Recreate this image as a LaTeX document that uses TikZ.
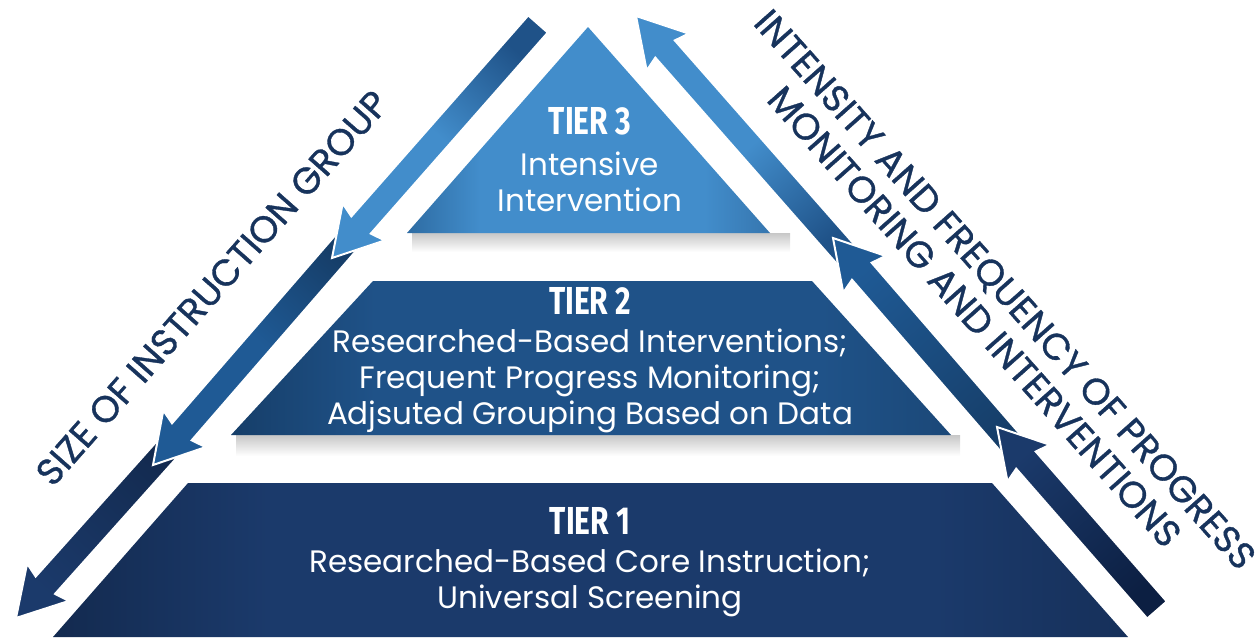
\documentclass[tikz,border=0pt]{standalone}
\usepackage{fontspec}
\setmainfont{Poppins}
\newfontfamily\tierfont[FakeStretch=0.77]{Fira Sans}
\newfontfamily\sidefont[FakeBold=0.9]{Poppins}
\usetikzlibrary{calc,positioning}
\definecolor{navy}{HTML}{17335C}
\definecolor{tieroneL}{HTML}{132A4F}
\definecolor{tierone}{HTML}{1B3A6B}
\definecolor{tieroneR}{HTML}{16305A}
\definecolor{tiertwoL}{HTML}{163E69}
\definecolor{tiertwo}{HTML}{1F5288}
\definecolor{tiertwoR}{HTML}{1B4878}
\definecolor{tierthreeL}{HTML}{2E6CA3}
\definecolor{tierthree}{HTML}{428DCB}
\definecolor{tierthreeR}{HTML}{3676AF}
\definecolor{arrowlight}{HTML}{428DCB}
\definecolor{arrowmid}{HTML}{1F5A95}
\definecolor{arrowdark}{HTML}{1B3A6B}
\definecolor{arrowdeep}{HTML}{0C1F42}
\pgfdeclarehorizontalshading{tieroneshade}{100bp}{color(0bp)=(tieroneL); color(25bp)=(tieroneL); color(35bp)=(tierone); color(66bp)=(tierone); color(75bp)=(tieroneR); color(100bp)=(tieroneR)}
\pgfdeclarehorizontalshading{tiertwoshade}{100bp}{color(0bp)=(tiertwoL); color(25bp)=(tiertwoL); color(35bp)=(tiertwo); color(66bp)=(tiertwo); color(75bp)=(tiertwoR); color(100bp)=(tiertwoR)}
\pgfdeclarehorizontalshading{tierthreeshade}{100bp}{color(0bp)=(tierthreeL); color(25bp)=(tierthreeL); color(35bp)=(tierthree); color(66bp)=(tierthree); color(75bp)=(tierthreeR); color(100bp)=(tierthreeR)}
% block arrow from #1 (tail) to #2 (tip)
\newcommand{\blockarrow}[3]{
\coordinate (hb) at ($(#2)!44pt!(#1)$);
\coordinate (hc) at ($(#2)!48pt!(#1)$);
\path[#3, draw=white, line width=2pt]
 ($(#1)!13pt!90:(#2)$) -- ($(hb)!13pt!-90:(#1)$) -- ($(hc)!28pt!-90:(#1)$) -- (#2)
 -- ($(hc)!28pt!90:(#1)$) -- ($(hb)!13pt!90:(#1)$) -- ($(#1)!13pt!-90:(#2)$) -- cycle;}

\begin{document}
\begin{tikzpicture}[x=1pt,y=-1pt,
 tiertitle/.style={font=\tierfont\bfseries\fontsize{39}{40}\selectfont, text=white, inner sep=0pt},
 tierbody/.style={font=\fontsize{31}{36}\selectfont, text=white, align=center, inner sep=0pt, anchor=north},
 sidelabel/.style={font=\sidefont\fontsize{37}{41}\selectfont, text=navy, align=center, inner sep=0pt},
 tiershadow/.style={top color=black!22, bottom color=white, draw=none}]
\useasboundingbox (0,0) rectangle (1256,640);

% shadows under the tiers
\path[tiershadow] (412,233) rectangle (790,252);
\path[tiershadow] (236,435) rectangle (960,456);

% tiers
\path[shading=tierthreeshade] (407,233) -- (588,27) -- (770,233) -- cycle;
\path[shading=tiertwoshade] (231,435) -- (373,281) -- (812,281) -- (951,435) -- cycle;
\path[shading=tieroneshade] (53,637) -- (188,483) -- (992,483) -- (1128,637) -- cycle;

\node[tiertitle] (t3head) at (590,121) {TIER 3};
\node[tierbody] (t3body) at (590,152) {Intensive\\Intervention};
\node[tiertitle] (t2head) at (590,301) {TIER 2};
\node[tierbody] (t2body) at (590,329) {Researched-Based Interventions;\\Frequent Progress Monitoring;\\Adjsuted Grouping Based on Data};
\node[tiertitle] (t1head) at (590,521) {TIER 1};
\node[tierbody] (t1body) at (590,549) {Researched-Based Core Instruction;\\Universal Screening};

% left arrows, pointing down
\coordinate (l1tail) at (538,24);
\coordinate (l1tip) at (332,258);
\coordinate (l2tail) at (357,230);
\coordinate (l2tip) at (153,465);
\coordinate (l3tail) at (178,437);
\coordinate (l3tip) at (16,618);
\blockarrow{l3tail}{l3tip}{top color=tieroneL, bottom color=arrowdark, shading angle=-41.4}
\blockarrow{l2tail}{l2tip}{top color=tiertwoL, bottom color=arrowmid, middle color=arrowmid, shading angle=-41.4}
\blockarrow{l1tail}{l1tip}{top color=tiertwo, bottom color=arrowlight, middle color=arrowlight, shading angle=-41.4}

% right arrows, pointing up
\coordinate (r1tip) at (636,16);
\coordinate (r1tail) at (856,266);
\coordinate (r2tip) at (833,238);
\coordinate (r2tail) at (1021,455);
\coordinate (r3tip) at (997,427);
\coordinate (r3tail) at (1157,610);
\blockarrow{r1tail}{r1tip}{top color=arrowlight, bottom color=tiertwo, middle color=arrowlight, shading angle=41.4}
\blockarrow{r2tail}{r2tip}{top color=arrowmid, bottom color=tiertwoL, shading angle=41.4}
\blockarrow{r3tail}{r3tip}{top color=arrowdark, bottom color=arrowdeep, shading angle=41.4}

\node[sidelabel, rotate=48.6] (sizelabel) at (212,288) {SIZE OF INSTRUCTION GROUP};
\node[sidelabel, rotate=-48.4] (intenslabel) at (990,303) {INTENSITY AND FREQUENCY OF PROGRESS\\MONITORING AND INTERVENTIONS};
\end{tikzpicture}
\end{document}
